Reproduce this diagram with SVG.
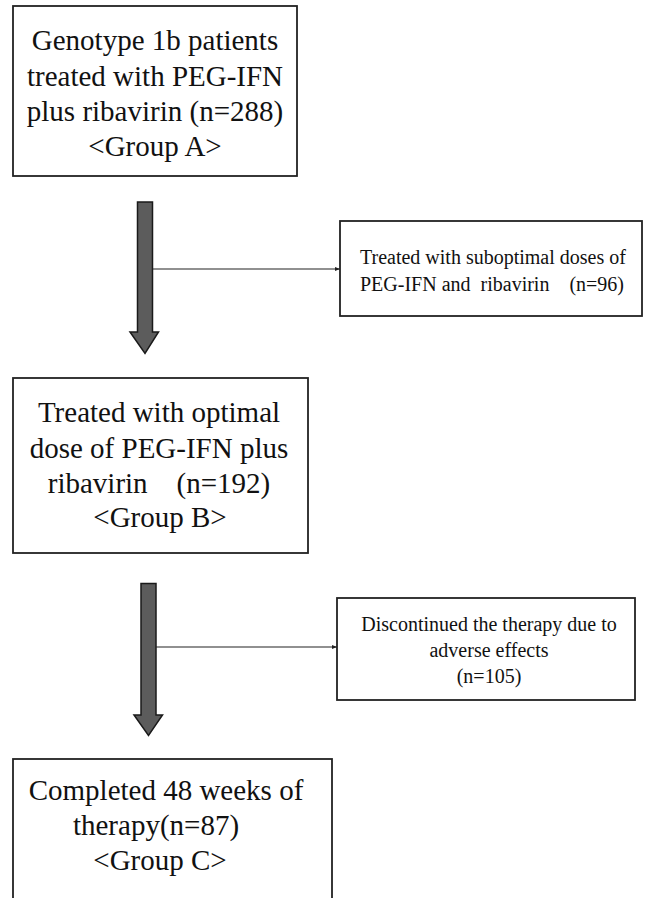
<svg xmlns="http://www.w3.org/2000/svg" width="655" height="898" viewBox="0 0 655 898">
<defs>
<style>
.box{fill:#fff;stroke:#222;stroke-width:1.8}
.big{font-family:"Liberation Serif","Times New Roman",serif;font-size:29px;fill:#111;text-anchor:middle}
.small{font-family:"Liberation Serif","Times New Roman",serif;font-size:20px;fill:#111}
.fat{fill:#5c5c5c;stroke:#1a1a1a;stroke-width:1.5;stroke-linejoin:miter}
.thin{stroke:#222;stroke-width:1.2;fill:none;marker-end:url(#ah)}
</style>
<marker id="ah" viewBox="0 0 10 10" refX="10" refY="5" markerWidth="5" markerHeight="5" orient="auto" markerUnits="userSpaceOnUse">
<path d="M0,1 L10,5 L0,9 z" fill="#222"/>
</marker>
</defs>
<rect width="655" height="898" fill="#fff"/>
<g id="connectors">
<path class="fat" d="M137.5,202 H152.5 V332 H158.5 L145,353.5 L130,332 H137.5 Z"/>
<line class="thin" x1="152.5" y1="269" x2="340" y2="269"/>
<path class="fat" d="M141,583.5 H156 V715 H162.5 L148.5,735.5 L134,715 H141 Z"/>
<line class="thin" x1="156" y1="647" x2="337" y2="647"/>
</g>
<g id="groupA">
<rect class="box" x="13" y="6" width="284" height="170"/>
<text class="big" x="155" y="50">Genotype 1b patients</text>
<text class="big" x="155" y="86">treated with PEG-IFN</text>
<text class="big" x="155" y="121">plus ribavirin (n=288)</text>
<text class="big" x="155" y="156">&lt;Group A&gt;</text>
</g>
<g id="suboptimal">
<rect class="box" x="340" y="221" width="302" height="95"/>
<text class="small" x="360" y="264">Treated with suboptimal doses of</text>
<text class="small" x="360" y="291" style="white-space:pre" xml:space="preserve">PEG-IFN and  ribavirin    (n=96)</text>
</g>
<g id="groupB">
<rect class="box" x="13" y="378" width="295" height="175"/>
<text class="big" x="159" y="422">Treated with optimal</text>
<text class="big" x="159" y="458">dose of PEG-IFN plus</text>
<text class="big" x="159" y="493" style="white-space:pre" xml:space="preserve">ribavirin    (n=192)</text>
<text class="big" x="160" y="527">&lt;Group B&gt;</text>
</g>
<g id="discontinued">
<rect class="box" x="337" y="598" width="298" height="102"/>
<text class="small" x="489" y="631" text-anchor="middle">Discontinued the therapy due to</text>
<text class="small" x="489" y="657" text-anchor="middle">adverse effects</text>
<text class="small" x="489" y="683" text-anchor="middle">(n=105)</text>
</g>
<g id="groupC">
<rect class="box" x="13" y="759" width="319" height="160"/>
<text class="big" x="166" y="800">Completed 48 weeks of</text>
<text class="big" x="156" y="835">therapy(n=87)</text>
<text class="big" x="160" y="870">&lt;Group C&gt;</text>
</g>
</svg>
